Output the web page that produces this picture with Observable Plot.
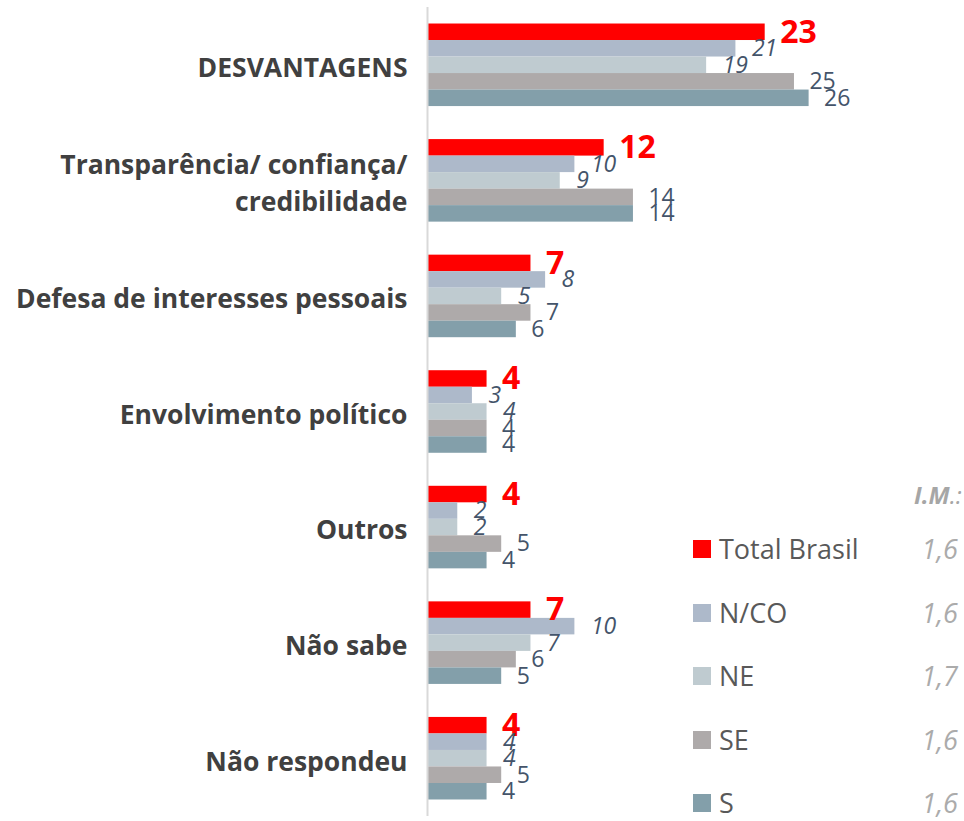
<!DOCTYPE html>
<html>
<head>
<meta charset="utf-8">
<script src="https://cdn.jsdelivr.net/npm/d3@7"></script>
<script src="https://cdn.jsdelivr.net/npm/@observablehq/plot@0.6"></script>
<style>
  body { margin: 0; background: #fff; }
  #wrap { position: relative; width: 964px; height: 821px; overflow: hidden; font-family: "Open Sans", sans-serif; }
  #chart { position: absolute; left: 0; top: 0; }
  .lg-sw { position: absolute; width: 18px; height: 18px; }
  .lg-tx { position: absolute; font-size: 27px; color: #595959; line-height: 40px; white-space: nowrap; }
  .lg-im { position: absolute; font-size: 27px; color: #ABABAB; font-style: italic; line-height: 40px; text-align: right; }
  .im-head { position: absolute; left: 914px; font-size: 24px; color: #A6A6A6; font-style: italic; line-height: 30px; white-space: nowrap; }
</style>
</head>
<body>
<div id="wrap"><div id="chart"></div><div id="legend"></div></div>
<script>
// ---- data ----
const categories = [
  "DESVANTAGENS",
  "Transparência/ confiança/\ncredibilidade",
  "Defesa de interesses pessoais",
  "Envolvimento político",
  "Outros",
  "Não sabe",
  "Não respondeu"
];
const seriesNames = ["Total Brasil", "N/CO", "NE", "SE", "S"];
const totalBrasil = [23, 12, 7, 4, 4, 7, 4];
const nco         = [21, 10, 8, 3, 2, 10, 4];
const ne          = [19, 9, 5, 4, 2, 7, 4];
const se          = [25, 14, 7, 4, 5, 6, 5];
const s           = [26, 14, 6, 4, 4, 5, 4];
const imValues    = ["1,6", "1,6", "1,7", "1,6", "1,6"];
const imLabel     = "I.M";
const seriesColors = ["#FF0000", "#ADB9CA", "#BFCBD0", "#AEAAAA", "#839FAA"];

// ---- build table ----
const seriesValues = [totalBrasil, nco, ne, se, s];
const rows = [];
categories.forEach((c, i) => {
  seriesNames.forEach((sn, j) => {
    rows.push({cat: i, series: sn, value: seriesValues[j][i], key: `${i}|${sn}`});
  });
});
const yDomain = categories.flatMap((c, i) => [`${i}|pre`, ...seriesNames.map(sn => `${i}|${sn}`), `${i}|post`]);
const labelColor = "#44546A";

const plot = Plot.plot({
  width: 964,
  height: 821,
  marginLeft: 428,
  marginRight: 9,
  marginTop: 7,
  marginBottom: 5,
  style: {fontFamily: "'Open Sans', sans-serif", background: "transparent"},
  x: {domain: [0, 36], axis: null},
  y: {domain: yDomain, padding: 0, axis: null, round: false},
  color: {domain: seriesNames, range: seriesColors},
  marks: [
    Plot.barX(rows, {x: "value", y: "key", fill: "series"}),
    Plot.ruleX([0], {stroke: "#D9D9D9", strokeWidth: 2, dx: -1}),
    Plot.text(categories.map((c, i) => ({c, i})), {
      y: d => `${d.i}|NE`, text: "c", frameAnchor: "left", dx: -21, textAnchor: "end",
      fontSize: 26.5, fontWeight: "bold", fill: "#404040", lineHeight: 1.39
    }),
    Plot.text(rows.filter(d => d.series === "Total Brasil"), {
      x: "value", y: "key", text: d => String(d.value), textAnchor: "start", dx: 15, dy: 0,
      fontSize: 32, fontWeight: "bold", fill: "#FF0000"
    }),
    Plot.text(rows.filter(d => d.series === "N/CO" || d.series === "NE"), {
      x: "value", y: "key", text: d => String(d.value), textAnchor: "start", dx: 16,
      fontSize: 23, fontStyle: "italic", fill: labelColor
    }),
    Plot.text(rows.filter(d => d.series === "SE" || d.series === "S"), {
      x: "value", y: "key", text: d => String(d.value), textAnchor: "start", dx: 15,
      fontSize: 23, fill: labelColor
    })
  ]
});
document.getElementById("chart").appendChild(plot);

// ---- legend ----
const legend = document.getElementById("legend");
const head = document.createElement("div");
head.className = "im-head";
head.style.top = "480px";
head.innerHTML = `<b>${imLabel}</b>.:`;
legend.appendChild(head);
seriesNames.forEach((sn, i) => {
  const cy = 549 + i * 63.5;
  const sw = document.createElement("div");
  sw.className = "lg-sw";
  sw.style.left = "693px";
  sw.style.top = (cy - 9) + "px";
  sw.style.background = seriesColors[i];
  legend.appendChild(sw);
  const tx = document.createElement("div");
  tx.className = "lg-tx";
  tx.style.left = "719px";
  tx.style.top = (cy - 20) + "px";
  tx.textContent = sn;
  legend.appendChild(tx);
  const im = document.createElement("div");
  im.className = "lg-im";
  im.style.right = "6px";
  im.style.top = (cy - 20) + "px";
  im.textContent = imValues[i];
  legend.appendChild(im);
});
</script>
</body>
</html>
